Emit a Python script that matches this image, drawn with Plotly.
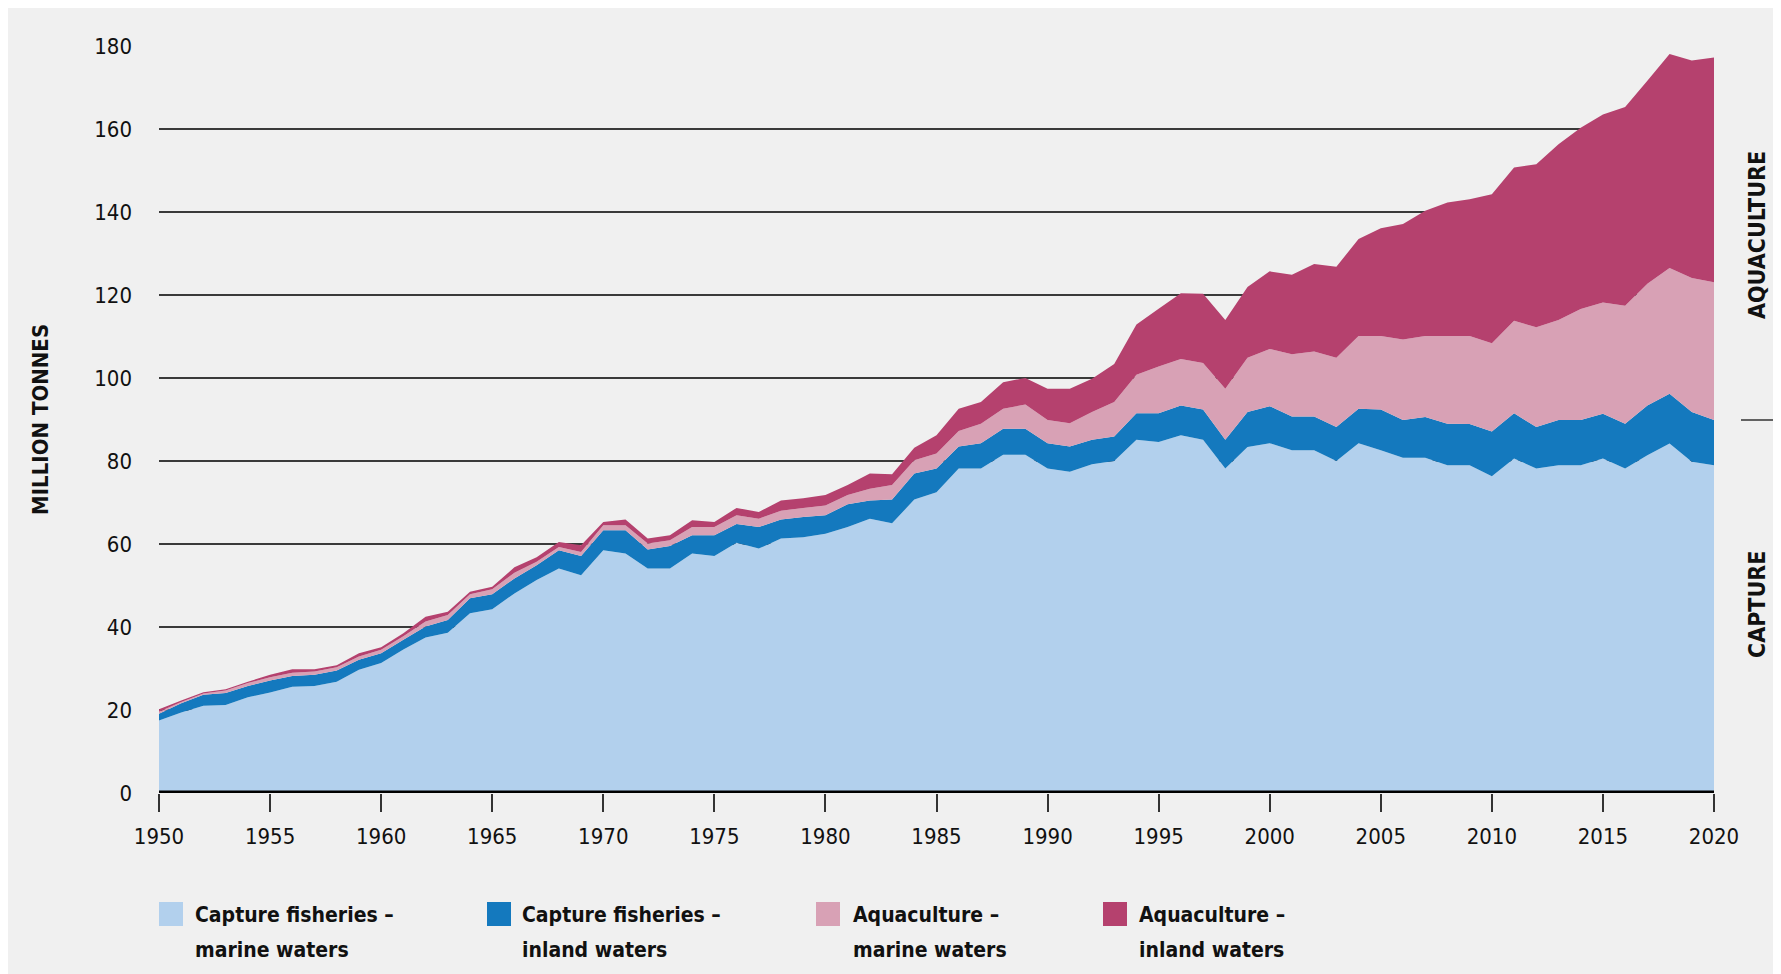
import plotly.graph_objects as go

years = list(range(1950, 2021))

capture_marine = [17.5, 19.4, 21.0, 21.2, 23.1, 24.2, 25.6, 25.8, 26.8, 29.7,
                  31.3, 34.6, 37.5, 38.6, 43.3, 44.3, 48.1, 51.3, 54.1, 52.5,
                  58.5, 57.7, 54.1, 54.1, 57.7, 57.1, 60.3, 58.9, 61.3, 61.6,
                  62.5, 64.1, 66.1, 65.0, 70.7, 72.5, 78.2, 78.2, 81.5, 81.5,
                  78.2, 77.4, 79.2, 80.0, 85.1, 84.6, 86.2, 85.1, 78.2, 83.4,
                  84.3, 82.6, 82.6, 80.0, 84.3, 82.6, 80.8, 80.8, 79.0, 79.0,
                  76.3, 80.6, 78.2, 79.0, 79.0, 80.6, 78.2, 81.4, 84.2, 79.8,
                  79.0]
capture_inland = [1.6, 2.2, 2.7, 2.9, 2.7, 2.9, 2.6, 2.7, 2.7, 2.4,
                  2.4, 2.3, 2.6, 3.1, 3.6, 3.6, 3.6, 3.6, 4.4, 4.6,
                  4.8, 5.6, 4.6, 5.4, 4.4, 5.0, 4.5, 5.2, 4.6, 4.9,
                  4.4, 5.5, 4.4, 5.7, 6.3, 5.7, 5.3, 6.1, 6.3, 6.3,
                  6.1, 6.1, 5.9, 5.9, 6.4, 6.9, 7.2, 7.3, 6.9, 8.4,
                  8.9, 8.1, 8.1, 8.2, 8.3, 9.8, 9.1, 9.8, 10.0, 9.9,
                  10.8, 10.9, 10.0, 10.9, 10.9, 10.8, 10.8, 12.0, 12.0, 12.0,
                  10.9]
aqua_marine = [0.5, 0.3, 0.3, 0.6, 0.7, 0.8, 0.8, 0.8, 0.8, 0.8,
               0.8, 0.9, 1.2, 1.2, 1.0, 1.2, 1.4, 0.8, 0.8, 1.0,
               1.2, 1.2, 1.4, 1.4, 2.0, 2.0, 2.1, 2.0, 2.1, 2.2,
               2.4, 2.2, 2.8, 3.5, 3.2, 3.6, 3.7, 4.7, 4.8, 5.8,
               5.6, 5.6, 6.7, 8.3, 9.3, 11.3, 11.2, 11.2, 12.3, 13.1,
               13.8, 15.0, 15.7, 16.7, 17.5, 17.7, 19.4, 19.5, 21.1, 21.2,
               21.3, 22.3, 24.0, 24.1, 26.7, 26.8, 28.4, 29.3, 30.3, 32.3,
               33.2]
aqua_inland = [0.6, 0.4, 0.3, 0.3, 0.3, 0.6, 0.8, 0.5, 0.5, 0.8,
               0.6, 0.7, 1.2, 0.8, 0.6, 0.6, 1.3, 1.1, 1.2, 1.6,
               0.8, 1.4, 1.2, 1.2, 1.6, 1.2, 1.8, 1.6, 2.5, 2.3,
               2.5, 2.4, 3.7, 2.6, 3.0, 4.4, 5.4, 5.2, 6.4, 6.4,
               7.5, 8.3, 8.0, 9.2, 12.1, 13.9, 15.8, 16.7, 16.6, 17.0,
               18.7, 19.2, 21.1, 21.9, 23.4, 26.0, 27.8, 30.2, 32.2, 33.0,
               35.9, 36.9, 39.3, 42.3, 43.7, 45.3, 47.9, 48.9, 51.6, 52.4,
               54.1]

series_names = ["Capture fisheries –<br>marine waters",
                "Capture fisheries –<br>inland waters",
                "Aquaculture –<br>marine waters",
                "Aquaculture –<br>inland waters"]
series_values = [capture_marine, capture_inland, aqua_marine, aqua_inland]
colors = ["#b2d0ed", "#1479be", "#d8a1b5", "#b5416e"]

x_ticks = list(range(1950, 2021, 5))
y_ticks = list(range(0, 181, 20))
y_title = "MILLION TONNES"
side_labels = ["AQUACULTURE", "CAPTURE"]

FONT = "DejaVu Sans Condensed, DejaVu Sans, sans-serif"
BG = "#f0f0f0"

# page has an 8px body margin, so figure coords = screenshot coords - 8
OFF = 8
W, H = 1773, 966
L, R, T, B = 151, 67, 38, 181
PW, PH = W - L - R, H - T - B


def px2x(px):
    return (px - OFF - L) / PW


def py2y(py):
    return (H - B - (py - OFF)) / PH


fig = go.Figure()
for name, vals, col in zip(series_names, series_values, colors):
    fig.add_trace(go.Scatter(
        x=years, y=vals, stackgroup="one", mode="none",
        fillcolor=col, name=name.replace("<br>", " "), showlegend=False,
        hoverinfo="x+y+name"))

shapes = []
# baseline
shapes.append(dict(type="line", xref="x", yref="y", x0=1950, x1=2020,
                   y0=0, y1=0, line=dict(color="black", width=5),
                   layer="above"))
# divider dash at right
shapes.append(dict(type="line", xref="paper", yref="paper",
                   x0=px2x(1741), x1=px2x(1773), y0=py2y(420), y1=py2y(420),
                   line=dict(color="#333", width=1.5)))

annotations = []
annotations.append(dict(text=y_title, xref="paper", yref="paper",
                        x=px2x(40), y=py2y(420), textangle=-90,
                        showarrow=False, xanchor="center", yanchor="middle",
                        font=dict(family=FONT, size=22, color="#111",
                                  weight="bold")))
annotations.append(dict(text=side_labels[0], xref="paper", yref="paper",
                        x=px2x(1757), y=py2y(235), textangle=-90,
                        showarrow=False, xanchor="center", yanchor="middle",
                        font=dict(family=FONT, size=23, color="#111",
                                  weight="bold")))
annotations.append(dict(text=side_labels[1], xref="paper", yref="paper",
                        x=px2x(1757), y=py2y(605), textangle=-90,
                        showarrow=False, xanchor="center", yanchor="middle",
                        font=dict(family=FONT, size=23, color="#111",
                                  weight="bold")))

# legend (custom)
sq_x = [159, 487, 816, 1103]
txt_x = [193, 520, 851, 1137]
for name, col, sx, tx in zip(series_names, colors, sq_x, txt_x):
    shapes.append(dict(type="rect", xref="paper", yref="paper",
                       x0=px2x(sx), x1=px2x(sx + 24), y0=py2y(926),
                       y1=py2y(902), fillcolor=col, line_width=0))
    l1, l2 = name.split("<br>")
    for txt, cy in ((l1, 915), (l2, 950)):
        annotations.append(dict(text=txt, xref="paper", yref="paper",
                                x=px2x(tx), y=py2y(cy), showarrow=False,
                                xanchor="left", yanchor="middle",
                                font=dict(family=FONT, size=21, color="#111",
                                          weight="bold")))

fig.update_layout(
    width=W, height=H,
    margin=dict(l=L, r=R, t=T, b=B, pad=0),
    paper_bgcolor=BG, plot_bgcolor=BG,
    shapes=shapes, annotations=annotations,
    showlegend=False,
    xaxis=dict(range=[1950, 2020], tickvals=x_ticks,
               ticktext=[str(t) for t in x_ticks],
               ticks="outside", ticklen=18, tickwidth=1.5, tickcolor="#333",
               showgrid=False, zeroline=False, showline=False,
               ticklabelstandoff=6,
               tickfont=dict(family=FONT, size=22, color="#111")),
    yaxis=dict(range=[0, 180], tickvals=y_ticks,
               ticktext=[str(t) for t in y_ticks],
               ticks="", showgrid=True, gridcolor="#3a3a3a", gridwidth=1.6,
               zeroline=False, showline=False,
               ticklabelstandoff=26,
               tickfont=dict(family=FONT, size=22, color="#111")),
)

fig.write_html("out.html")
